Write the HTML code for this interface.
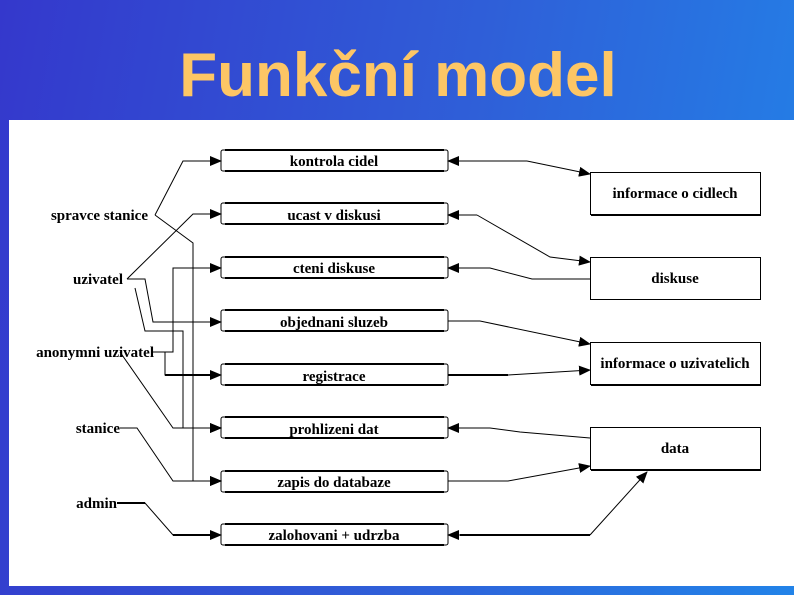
<!DOCTYPE html>
<html><head><meta charset="utf-8"><style>
html,body{margin:0;padding:0;}
body{width:794px;height:595px;overflow:hidden;background:linear-gradient(100deg,#3438cc 0%,#2f5fd8 55%,#2283e8 100%);position:relative;font-family:"Liberation Sans",sans-serif;}
.title{position:absolute;left:0;width:796px;top:40px;text-align:center;font-size:62px;font-weight:bold;color:#fdc665;}
svg{position:absolute;left:0;top:0;}
text{font-family:"Liberation Serif",serif;font-size:15px;font-weight:bold;fill:#000;}
</style></head><body>
<div class="title">Funkční model</div>
<svg width="794" height="595" viewBox="0 0 794 595">
<defs><marker id="a" markerWidth="12" markerHeight="10" refX="11" refY="5" orient="auto" markerUnits="userSpaceOnUse"><path d="M0,0 L12,5 L0,10 Z" fill="#000"/></marker></defs>
<rect x="9" y="120" width="785" height="466" fill="#fff"/>
<g fill="#fff" stroke="#000">
<rect x="221" y="150" width="227" height="21" rx="2"/>
<rect x="221" y="203" width="227" height="21" rx="2"/>
<rect x="221" y="257" width="227" height="21" rx="2"/>
<rect x="221" y="310" width="227" height="21" rx="2"/>
<rect x="221" y="364" width="227" height="21" rx="2"/>
<rect x="221" y="417" width="227" height="21" rx="2"/>
<rect x="221" y="471" width="227" height="21" rx="2"/>
<rect x="221" y="524" width="227" height="21" rx="2"/>
</g>
<g stroke="#000" stroke-width="2">
<line x1="225" y1="150" x2="444" y2="150"/><line x1="225" y1="171" x2="444" y2="171"/>
<line x1="225" y1="203" x2="444" y2="203"/><line x1="225" y1="224" x2="444" y2="224"/>
<line x1="225" y1="257" x2="444" y2="257"/><line x1="225" y1="278" x2="444" y2="278"/>
<line x1="225" y1="310" x2="444" y2="310"/><line x1="225" y1="331" x2="444" y2="331"/>
<line x1="225" y1="364" x2="444" y2="364"/><line x1="225" y1="385" x2="444" y2="385"/>
<line x1="225" y1="417" x2="444" y2="417"/><line x1="225" y1="438" x2="444" y2="438"/>
<line x1="225" y1="471" x2="444" y2="471"/><line x1="225" y1="492" x2="444" y2="492"/>
<line x1="225" y1="524" x2="444" y2="524"/><line x1="225" y1="545" x2="444" y2="545"/>
</g>
<g fill="#fff" stroke="#000" stroke-width="1">
<rect x="590.5" y="172.5" width="170" height="42"/>
<rect x="590.5" y="257.5" width="170" height="42"/>
<rect x="590.5" y="342.5" width="170" height="42"/>
<rect x="590.5" y="427.5" width="170" height="42"/>
</g>
<g stroke="#000" stroke-width="2">
<line x1="591" y1="215" x2="761" y2="215"/><line x1="591" y1="385" x2="761" y2="385"/><line x1="591" y1="470" x2="761" y2="470"/>
</g>
<g fill="none" stroke="#000" stroke-width="1" marker-end="url(#a)">
<polyline points="155,215 183,161 221,161"/>
<polyline points="155,215 193,243 193,481 221,481"/>
<polyline points="127,279 193,214 221,214"/>
<polyline points="127,279 145,279 153,322 221,322"/>
<polyline points="135,288 145,331 183,331 183,428 221,428"/>
<polyline points="153,352 173,352 173,268 221,268"/>
<polyline points="153,352 165,352 165,375 221,375"/>
<polyline points="120,352 173,428 221,428"/>
<polyline points="120,428 137,428 173,481 221,481"/>
<polyline points="117,503 145,503 173,535 221,535"/>
<polyline points="527,161 590,174"/>
<polyline points="477,215 550,257 590,262"/>
<polyline points="590,279 532,279 490,268 448,268"/>
<polyline points="448,321 480,321 590,344"/>
<polyline points="448,375 508,375 590,370"/>
<polyline points="590,438 520,432 490,428 448,428"/>
<polyline points="448,481 508,481 590,466"/>
<polyline points="590,535 647,472"/>
<polyline points="527,161 448,161"/>
<polyline points="477,215 448,215"/>
<polyline points="590,535 448,535"/>
</g>
<g stroke="#000" stroke-width="2"><line x1="145" y1="503" x2="117" y2="503"/><line x1="173" y1="535" x2="210" y2="535"/><line x1="165" y1="375" x2="210" y2="375"/><line x1="508" y1="375" x2="448" y2="375"/><line x1="590" y1="535" x2="460" y2="535"/></g>
<g text-anchor="middle">
<text x="334" y="166">kontrola cidel</text>
<text x="334" y="220">ucast v diskusi</text>
<text x="334" y="273">cteni diskuse</text>
<text x="334" y="327">objednani sluzeb</text>
<text x="334" y="381">registrace</text>
<text x="334" y="434">prohlizeni dat</text>
<text x="334" y="487">zapis do databaze</text>
<text x="334" y="540">zalohovani + udrzba</text>
<text x="675" y="198">informace o cidlech</text>
<text x="675" y="283">diskuse</text>
<text x="675" y="368">informace o uzivatelich</text>
<text x="675" y="453">data</text>
</g>
<g text-anchor="end">
<text x="148" y="220">spravce stanice</text>
<text x="123" y="284">uzivatel</text>
<text x="154" y="357">anonymni uzivatel</text>
<text x="120" y="433">stanice</text>
<text x="117" y="508">admin</text>
</g>
</svg>
</body></html>
